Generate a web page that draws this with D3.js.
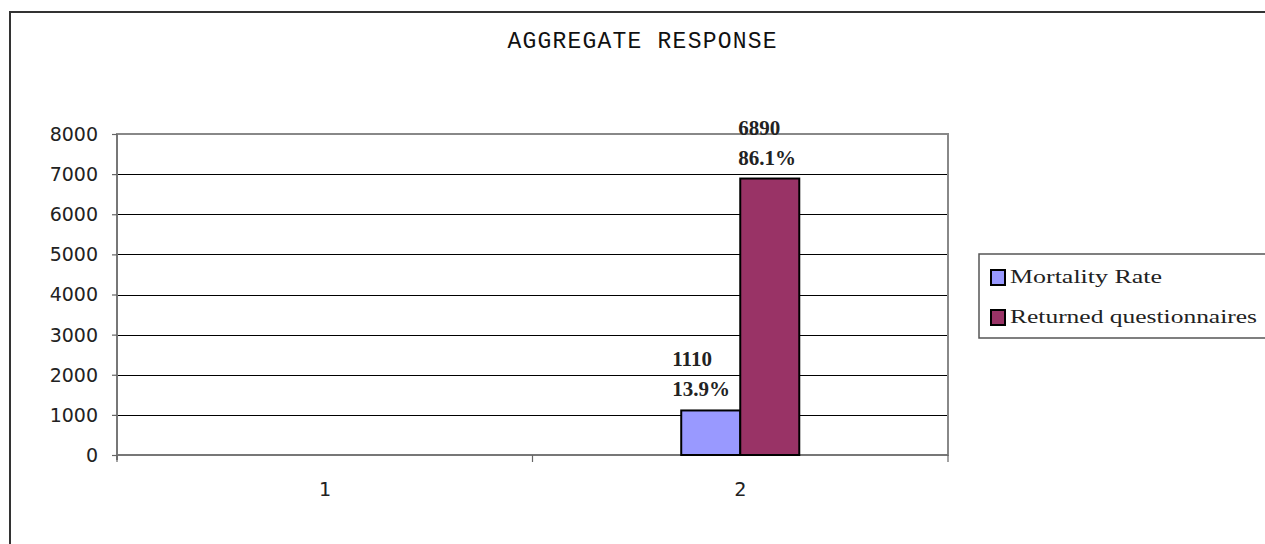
<!DOCTYPE html>
<html>
<head>
<meta charset="utf-8">
<script src="https://cdn.jsdelivr.net/npm/d3@7"></script>
<style>
  html, body { margin: 0; padding: 0; background: #fff; }
  svg { display: block; }
</style>
</head>
<body>
<svg id="chart" width="1265" height="544"></svg>
<script>
// Categories on the x axis
const categories = ["1", "2"];
// Series names, in legend order
const seriesNames = ["Mortality Rate", "Returned questionnaires"];
// Values per category (null = no bar)
const mortality = [null, 1110];
const returned = [null, 6890];
// Y axis tick values
const yTicks = [0, 1000, 2000, 3000, 4000, 5000, 6000, 7000, 8000];
const total = 8000;

const colors = ["#9999ff", "#993366"];
const labelOffsets = [-9, -2];

const svg = d3.select("#chart");

// outer frame
svg.append("rect")
  .attr("x", 10).attr("y", 12).attr("width", 1280).attr("height", 560)
  .attr("fill", "none").attr("stroke", "#333").attr("stroke-width", 2);

// title
svg.append("text")
  .attr("x", 642).attr("y", 48)
  .attr("text-anchor", "middle")
  .attr("font-family", "Liberation Mono, monospace")
  .attr("font-size", 23)
  .attr("textLength", 269).attr("lengthAdjust", "spacing")
  .attr("fill", "#111")
  .text("AGGREGATE RESPONSE");

const plot = { left: 117, right: 948, top: 134, bottom: 455 };

const x = d3.scaleBand().domain(categories).range([plot.left, plot.right]).padding(0);
const xs = d3.scaleBand().domain(seriesNames).range([0, x.bandwidth()])
  .paddingInner(0).paddingOuter(2.52);
const y = d3.scaleLinear().domain([0, 8000]).range([plot.bottom, plot.top]);

// gridlines
svg.append("g").selectAll("line")
  .data(yTicks.filter(t => t > 0 && t < 8000))
  .join("line")
  .attr("x1", plot.left).attr("x2", plot.right)
  .attr("y1", d => Math.round(y(d)) + 0.5).attr("y2", d => Math.round(y(d)) + 0.5)
  .attr("stroke", "#000").attr("stroke-width", 1);

// plot area border
svg.append("rect")
  .attr("x", plot.left).attr("y", plot.top)
  .attr("width", plot.right - plot.left).attr("height", plot.bottom - plot.top)
  .attr("fill", "none").attr("stroke", "#888").attr("stroke-width", 2);

// y axis
const yAxis = d3.axisLeft(y).tickValues(yTicks).tickSize(5).tickPadding(14).tickFormat(d3.format("d"));
const gy = svg.append("g").attr("transform", `translate(${plot.left},0)`).call(yAxis);
gy.select(".domain").attr("stroke", "#777").attr("stroke-width", 2)
  .attr("d", `M0,${plot.top}V${plot.bottom + 5}`);
gy.selectAll(".tick line").attr("stroke", "#666").attr("stroke-width", 1.2);
gy.selectAll(".tick text")
  .attr("font-family", "DejaVu Sans, sans-serif").attr("font-size", 19)
  .attr("fill", "#222").attr("dy", "0.34em");

// x axis
const xAxis = d3.axisBottom(x).tickSize(0).tickPadding(27);
const gx = svg.append("g").attr("transform", `translate(0,${plot.bottom})`).call(xAxis);
gx.select(".domain").attr("stroke", "#777").attr("stroke-width", 2)
  .attr("d", `M${plot.left},0H${plot.right}`);
gx.selectAll(".tick text")
  .attr("font-family", "DejaVu Sans Mono, monospace").attr("font-size", 20)
  .attr("fill", "#222").attr("dy", "0.71em");
// category boundary ticks
const bounds = [plot.left, ...categories.slice(1).map(c => x(c)), plot.right];
gx.append("g").selectAll("line").data(bounds).join("line")
  .attr("x1", d => d).attr("x2", d => d).attr("y1", 0).attr("y2", 7)
  .attr("stroke", "#666").attr("stroke-width", 1.2);

// bars
const seriesValues = [mortality, returned];
const barData = [];
seriesValues.forEach((vals, si) => {
  vals.forEach((v, ci) => {
    if (v != null) barData.push({ s: si, cat: categories[ci], v });
  });
});

svg.append("g").selectAll("rect").data(barData).join("rect")
  .attr("x", d => x(d.cat) + xs(seriesNames[d.s]))
  .attr("y", d => y(d.v))
  .attr("width", xs.bandwidth())
  .attr("height", d => y(0) - y(d.v))
  .attr("fill", d => colors[d.s])
  .attr("stroke", "#000").attr("stroke-width", 2);

// value labels (count and share of total)
const lbl = svg.append("g")
  .attr("font-family", "Liberation Serif, Times New Roman, serif")
  .attr("font-weight", "bold").attr("font-size", 21).attr("fill", "#222");
barData.forEach(d => {
  const lx = x(d.cat) + xs(seriesNames[d.s]) + labelOffsets[d.s];
  const top = y(d.v);
  lbl.append("text").attr("x", lx).attr("y", top - 44).text(d.v);
  lbl.append("text").attr("x", lx).attr("y", top - 14)
    .text(d3.format(".1f")(d.v / total * 100) + "%");
});

// legend
const lg = svg.append("g");
lg.append("rect")
  .attr("x", 979).attr("y", 254).attr("width", 300).attr("height", 84)
  .attr("fill", "#fff").attr("stroke", "#555").attr("stroke-width", 1.5);
const legendY = [277, 317];
const legendW = [152, 247];
seriesNames.forEach((name, i) => {
  lg.append("rect")
    .attr("x", 991).attr("y", legendY[i] - 7).attr("width", 14).attr("height", 15)
    .attr("fill", colors[i]).attr("stroke", "#000").attr("stroke-width", 2);
  lg.append("text")
    .attr("x", 1010).attr("y", legendY[i] + 6)
    .attr("font-family", "Liberation Serif, Times New Roman, serif")
    .attr("font-size", 18)
    .attr("textLength", legendW[i]).attr("lengthAdjust", "spacingAndGlyphs")
    .attr("fill", "#222")
    .text(name);
});
</script>
</body>
</html>
